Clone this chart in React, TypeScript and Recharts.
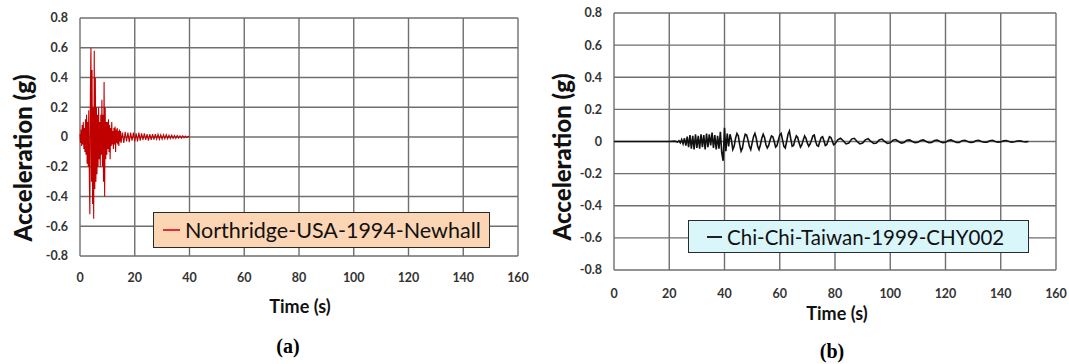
import React from "react";
import { LineChart, Line, XAxis, YAxis, CartesianGrid, Legend } from "recharts";

const xTicks = [0, 20, 40, 60, 80, 100, 120, 140, 160];
const yTicks = [-0.8, -0.6, -0.4, -0.2, 0, 0.2, 0.4, 0.6, 0.8];

const northridgeName = "Northridge-USA-1994-Newhall";
const chiChiName = "Chi-Chi-Taiwan-1999-CHY002";

const northridgeTime = [
  0, 0.2, 0.4, 0.6, 0.8, 1, 1.2, 1.4, 1.6, 1.8,
  2, 2.2, 2.4, 2.6, 2.8, 3, 3.2, 3.4, 3.6, 3.8,
  4, 4.2, 4.4, 4.6, 4.8, 5, 5.2, 5.4, 5.6, 5.8,
  6, 6.2, 6.4, 6.6, 6.8, 7, 7.2, 7.4, 7.6, 7.8,
  8, 8.2, 8.4, 8.6, 8.8, 9, 9.2, 9.4, 9.6, 9.8,
  10, 10.2, 10.4, 10.6, 10.8, 11, 11.2, 11.4, 11.6, 11.8,
  12, 12.2, 12.4, 12.6, 12.8, 13, 13.2, 13.4, 13.6, 13.8,
  14, 14.2, 14.4, 14.6, 14.8, 15,
  15.5, 16, 16.5, 17, 17.5, 18, 18.5, 19, 19.5, 20,
  20.5, 21, 21.5, 22, 22.5, 23, 23.5, 24, 24.5, 25,
  25.5, 26, 26.5, 27, 27.5, 28, 28.5, 29, 29.5, 30,
  30.5, 31, 31.5, 32, 32.5, 33, 33.5, 34, 34.5, 35,
  35.5, 36, 36.5, 37, 37.5, 38, 38.5, 39, 39.5, 40,
];
const northridgeAcc = [
  0.02, -0.04, 0.05, -0.06, 0.08, -0.05, 0.1, -0.08, 0.06, -0.1,
  0.12, -0.12, 0.15, -0.18, 0.1, -0.2, 0.18, -0.25, -0.52, 0.3,
  0.6, -0.3, 0.45, -0.45, 0.2, -0.55, 0.58, -0.35, 0.4, -0.3,
  0.2, -0.25, 0.15, -0.2, 0.2, -0.15, 0.1, -0.2, 0.15, -0.12,
  0.25, -0.2, 0.15, -0.3, 0.37, -0.4, 0.2, -0.15, 0.1, -0.12,
  0.1, -0.08, 0.12, -0.1, 0.08, -0.15, 0.06, -0.06, 0.1, -0.05,
  0.04, -0.08, 0.06, -0.05, 0.07, -0.1, 0.05, -0.04, 0.06, -0.05,
  0.04, -0.06, 0.05, -0.03, 0.04, -0.04,
  0.03, -0.04, 0.035, -0.03, 0.03, -0.035, 0.03, -0.025, 0.03, -0.03,
  0.025, -0.03, 0.03, -0.025, 0.025, -0.02, 0.025, -0.02, 0.02, -0.025,
  0.02, -0.02, 0.02, -0.018, 0.02, -0.015, 0.018, -0.015, 0.015, -0.015,
  0.015, -0.012, 0.015, -0.012, 0.012, -0.01, 0.012, -0.01, 0.01, -0.01,
  0.01, -0.008, 0.008, -0.008, 0.008, -0.006, 0.006, -0.005, 0.004, 0,
];

const chiChiTime = [
  0, 5, 10, 15, 20, 22, 23,
  23.5, 24, 24.5, 25, 25.5, 26, 26.5, 27, 27.5, 28,
  28.5, 29, 29.5, 30, 30.5, 31, 31.5, 32, 32.5, 33,
  33.5, 34, 34.5, 35, 35.5, 36, 36.5, 37, 37.5, 38,
  38.5, 39, 39.5, 40, 40.5, 41, 41.5, 42, 42.5, 43,
  43.5, 44, 44.5, 45, 45.5, 46, 46.5, 47, 47.5, 48,
  48.5, 49, 49.5, 50, 50.5, 51, 51.5, 52, 52.5, 53,
  53.5, 54, 54.5, 55, 55.5, 56, 56.5, 57, 57.5, 58,
  58.5, 59, 59.5, 60, 60.5, 61, 61.5, 62, 62.5, 63,
  63.5, 64, 64.5, 65, 65.5, 66, 66.5, 67, 67.5, 68,
  68.5, 69, 69.5, 70, 70.5, 71, 71.5, 72, 72.5, 73,
  73.5, 74, 74.5, 75, 75.5, 76, 76.5, 77, 77.5, 78,
  78.5, 79, 79.5, 80,
  81, 82, 83, 84, 85, 86, 87, 88, 89, 90,
  91, 92, 93, 94, 95, 96, 97, 98, 99, 100,
  101, 102, 103, 104, 105, 106, 107, 108, 109, 110,
  111, 112, 113, 114, 115, 116, 117, 118, 119, 120,
  121, 122, 123, 124, 125, 126, 127, 128, 129, 130,
  131, 132, 133, 134, 135, 136, 137, 138, 139, 140,
  141, 142, 143, 144, 145, 146, 147, 148, 149, 150,
];
const chiChiAcc = [
  0, 0, 0, 0, 0, 0.002, -0.003,
  0.005, -0.008, 0.012, -0.015, 0.02, -0.025, 0.03, -0.035, 0.04, -0.045,
  0.035, -0.05, 0.045, -0.04, 0.035, -0.045, 0.045, -0.035, 0.04, -0.05,
  0.05, -0.035, 0.045, -0.025, 0.055, -0.04, 0.04, -0.05, 0.035, -0.045,
  0.06, -0.07, -0.12, 0.085, -0.06, 0.05, -0.03, 0.045, 0.01, -0.05,
  -0.03, 0.02, 0.05, 0.035, -0.02, -0.06, -0.04, 0.01, 0.045, 0.04,
  0.01, -0.03, -0.05, -0.01, 0.03, 0.05, 0.02, -0.03, -0.05, -0.02,
  0.02, 0.045, 0.025, -0.02, -0.04, -0.025, 0.01, 0.035, 0.03, 0,
  -0.035, -0.025, 0.01, 0.04, 0.05, 0.01, -0.03, -0.04, 0, 0.045,
  0.065, 0.015, -0.03, -0.025, 0.01, 0.035, 0.025, -0.01, -0.035, -0.02,
  0.01, 0.035, 0.02, -0.01, -0.03, -0.015, 0.01, 0.035, 0.04, 0,
  -0.025, -0.03, 0, 0.025, 0.03, 0.005, -0.025, -0.02, 0.005, 0.03,
  0.025, 0.005, -0.02, -0.015,
  0.01, 0.02, 0.005, -0.015, -0.01, 0.015, 0.02, 0, -0.015, -0.01,
  0.01, 0.018, 0, -0.012, -0.01, 0.01, 0.015, 0, -0.012, -0.008,
  0.008, 0.012, 0, -0.01, -0.006, 0.008, 0.01, 0, -0.008, -0.005,
  0.006, 0.01, 0, -0.008, -0.006, 0.006, 0.009, 0, -0.007, -0.005,
  0.006, 0.01, 0.002, -0.006, -0.006, 0.005, 0.008, 0, -0.006, -0.004,
  0.005, 0.008, 0, -0.005, -0.004, 0.005, 0.008, 0, -0.004, -0.003,
  0.004, 0.006, 0, -0.004, -0.002, 0.003, 0.004, 0, -0.002, 0,
];

const northridgeData = northridgeTime.map((t, i) => ({ t, acc: northridgeAcc[i] }));
const chiChiData = chiChiTime.map((t, i) => ({ t, acc: chiChiAcc[i] }));

const fmt = (v: number) => (Math.abs(v) < 1e-9 ? "0" : String(Math.round(v * 10) / 10));

const tickStyle = { fontFamily: "Lato", fontSize: 12.5, fontWeight: 700, fill: "#333" };
const gridColor = "#6f6f6f";

type PanelProps = {
  data: { t: number; acc: number }[];
  width: number;
  margin: { top: number; right: number; bottom: number; left: number };
  xTickMargin: number;
  color: string;
  strokeWidth: number;
  name: string;
  legendPos: { left: number; top: number; width: number; height: number };
  legendBg: string;
  legendFont: number;
  dashLeft: number;
  dashWidth: number;
  dashColor: string;
  yTitle: { x: number; y: number };
  xTitle: { x: number; y: number };
  caption: { x: number; y: number; text: string };
};

function Panel(p: PanelProps) {
  const legendContent = () => (
    <div
      style={{
        boxSizing: "border-box",
        width: p.legendPos.width,
        height: p.legendPos.height,
        background: p.legendBg,
        border: "1.5px solid #2a2a2a",
        display: "flex",
        alignItems: "center",
        paddingLeft: p.dashLeft,
        fontFamily: "Lato",
        fontSize: p.legendFont,
        color: "#111",
        whiteSpace: "nowrap",
      }}
    >
      <span style={{ display: "inline-block", width: p.dashWidth, height: 2, background: p.dashColor, marginRight: 5 }} />
      <span>{p.name}</span>
    </div>
  );
  return (
    <LineChart width={p.width} height={364} data={p.data} margin={p.margin}>
      <CartesianGrid stroke={gridColor} strokeWidth={1.4} />
      <XAxis
        dataKey="t"
        type="number"
        domain={[0, 160]}
        ticks={xTicks}
        interval={0}
        axisLine={false}
        tickLine={false}
        tickSize={0}
        tickMargin={p.xTickMargin}
        tick={tickStyle}
        height={30}
        label={{
          content: () => (
            <g>
              <text
                x={p.xTitle.x}
                y={p.xTitle.y}
                textAnchor="middle"
                dominantBaseline="central"
                style={{ fontFamily: "Lato", fontSize: 18, fontWeight: 700, fill: "#111" }}
              >
                Time (s)
              </text>
              <text
                x={p.caption.x}
                y={p.caption.y}
                textAnchor="middle"
                dominantBaseline="central"
                style={{ fontFamily: "Liberation Serif", fontSize: 20, fontWeight: 700, fill: "#000" }}
              >
                {p.caption.text}
              </text>
            </g>
          ),
        }}
      />
      <YAxis
        type="number"
        domain={[-0.8, 0.8]}
        ticks={yTicks}
        interval={0}
        axisLine={false}
        tickLine={false}
        tickSize={0}
        tickMargin={12}
        tick={tickStyle}
        tickFormatter={fmt}
        width={60}
        label={{
          content: () => (
            <text
              x={p.yTitle.x}
              y={p.yTitle.y}
              transform={`rotate(-90 ${p.yTitle.x} ${p.yTitle.y})`}
              textAnchor="middle"
              dominantBaseline="central"
              style={{ fontFamily: "Lato", fontSize: 24, fontWeight: 900, fill: "#111" }}
            >
              Acceleration (g)
            </text>
          ),
        }}
      />
      <Legend
        layout="horizontal"
        verticalAlign="middle"
        align="center"
        content={legendContent}
        wrapperStyle={{ left: p.legendPos.left, top: p.legendPos.top, width: "auto", height: "auto" }}
      />
      <Line
        type="linear"
        dataKey="acc"
        name={p.name}
        stroke={p.color}
        strokeWidth={p.strokeWidth}
        dot={false}
        isAnimationActive={false}
      />
    </LineChart>
  );
}

export default function App() {
  return (
    <div style={{ position: "absolute", left: 0, top: 0, width: 1069, height: 364, background: "#fff" }}>
      <div style={{ position: "absolute", left: 0, top: 0 }}>
        <Panel
          data={northridgeData}
          width={540}
          margin={{ top: 18, right: 22, bottom: 78, left: 20 }}
          xTickMargin={17}
          color="#c00000"
          strokeWidth={1.1}
          name={northridgeName}
          legendPos={{ left: 153, top: 212, width: 337, height: 36 }}
          legendBg="#fcd5b4"
          legendFont={21.5}
          dashLeft={9}
          dashWidth={17}
          dashColor="#e03030"
          yTitle={{ x: 22, y: 158 }}
          xTitle={{ x: 300, y: 306 }}
          caption={{ x: 288, y: 346, text: "(a)" }}
        />
      </div>
      <div style={{ position: "absolute", left: 540, top: 0 }}>
        <Panel
          data={chiChiData}
          width={529}
          margin={{ top: 13, right: 13, bottom: 64, left: 14 }}
          xTickMargin={19}
          color="#111111"
          strokeWidth={1.6}
          name={chiChiName}
          legendPos={{ left: 148, top: 220, width: 341, height: 33 }}
          legendBg="#d9f6fb"
          legendFont={20.5}
          dashLeft={18}
          dashWidth={15}
          dashColor="#222"
          yTitle={{ x: 21, y: 157 }}
          xTitle={{ x: 297, y: 313 }}
          caption={{ x: 292, y: 351, text: "(b)" }}
        />
      </div>
    </div>
  );
}
